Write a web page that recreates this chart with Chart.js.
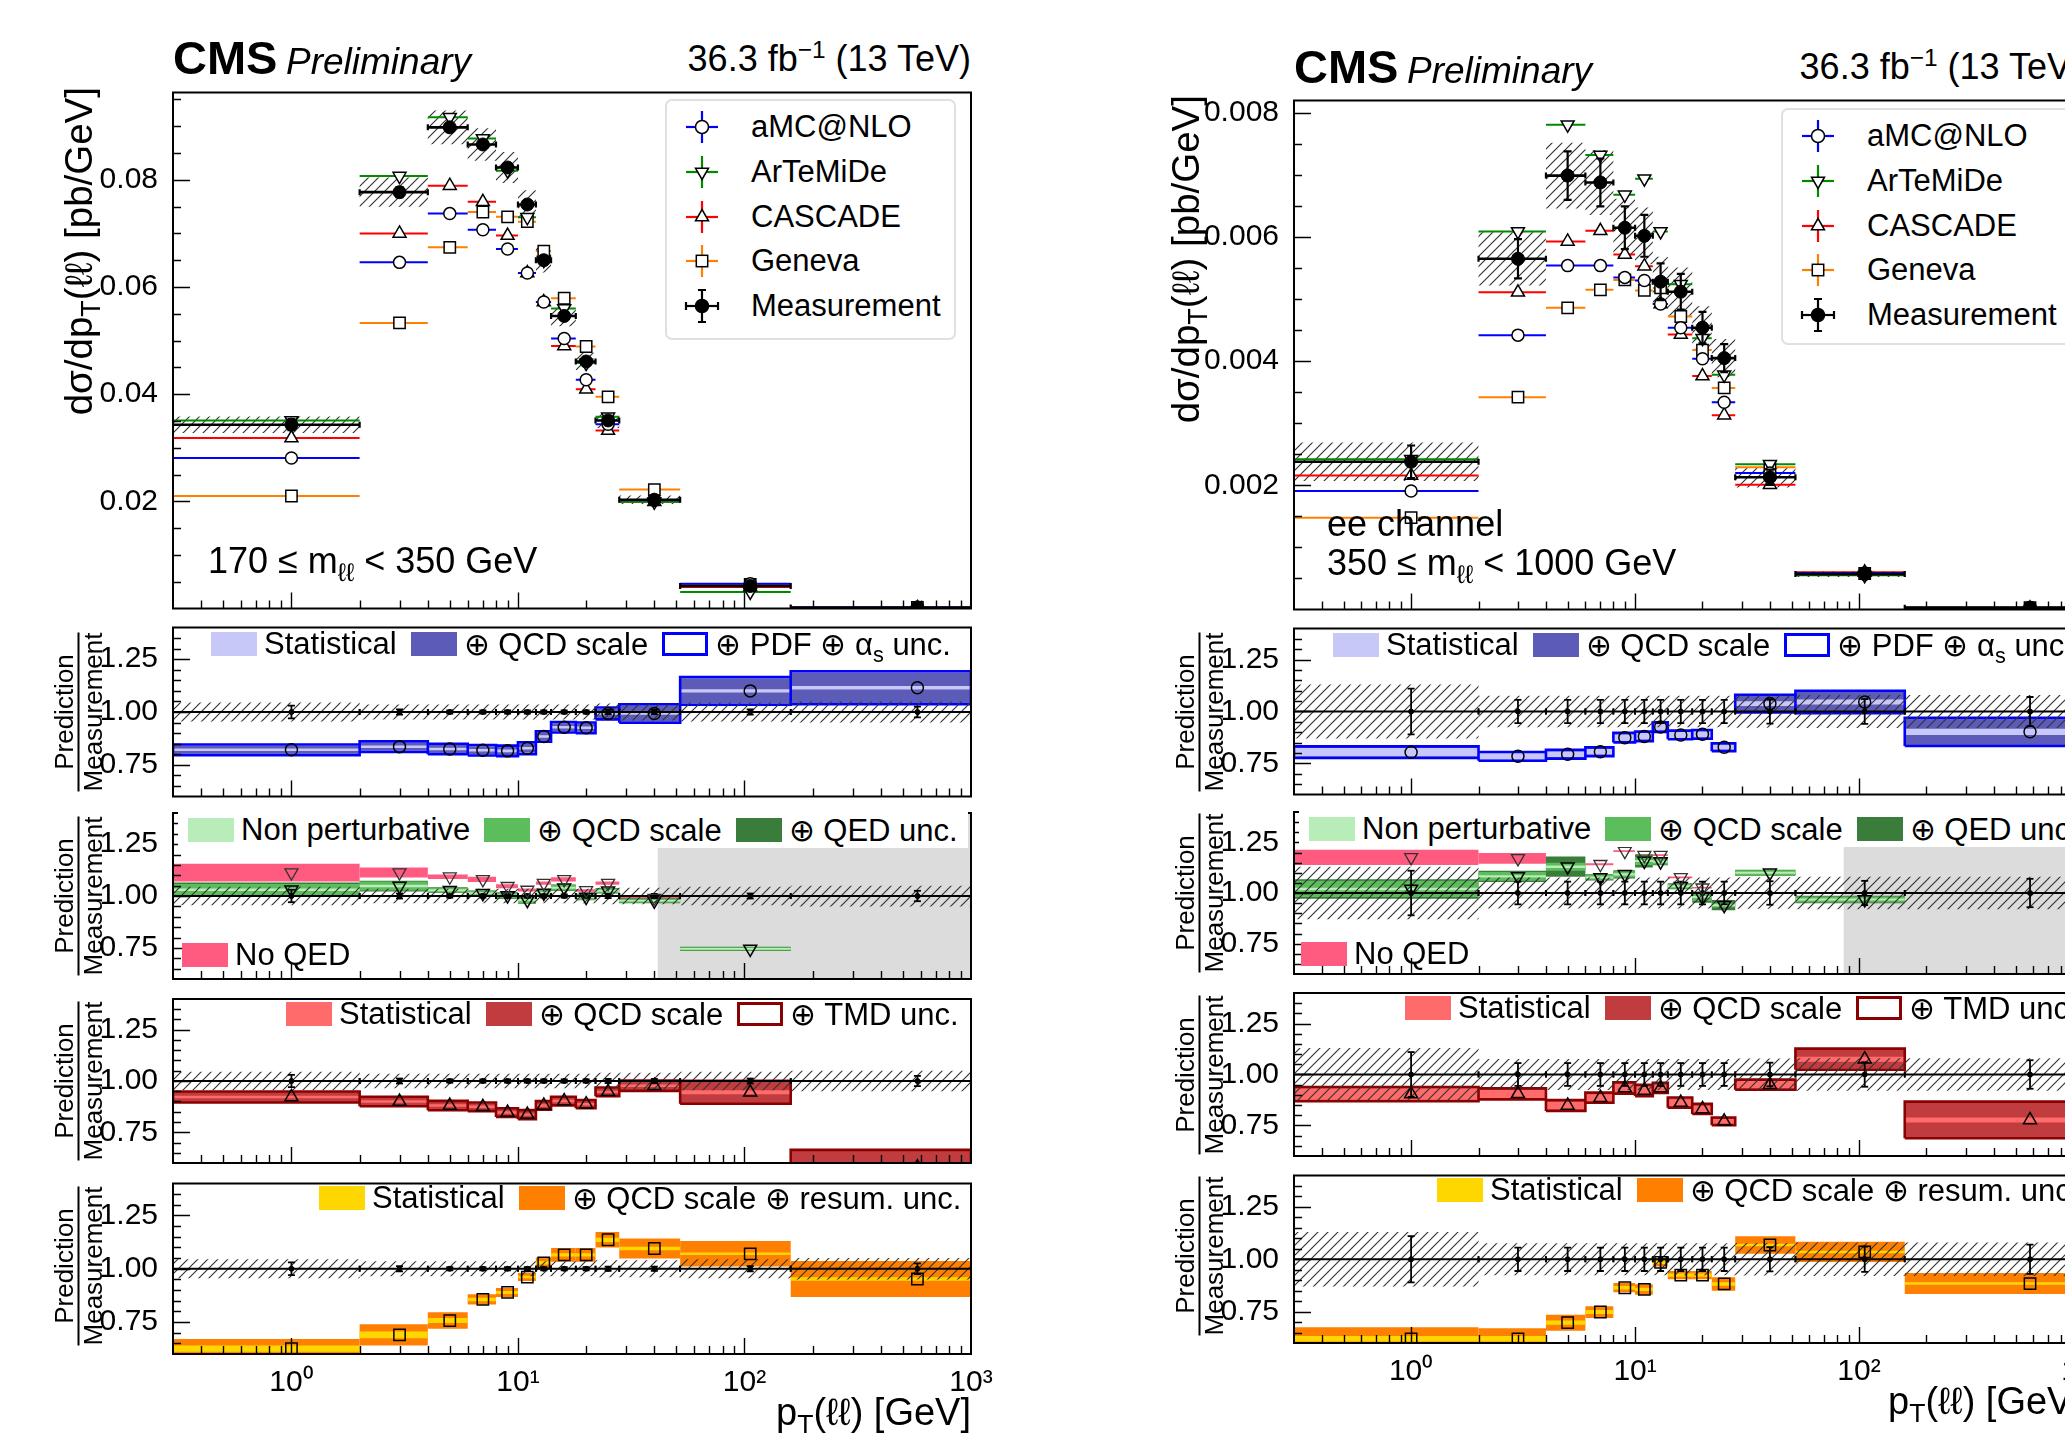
<!DOCTYPE html>
<html>
<head>
<meta charset="utf-8">
<title>pT(ll) predictions vs measurement</title>
<script src="https://cdn.jsdelivr.net/npm/chart.js@4.4.1/dist/chart.umd.min.js"></script>
<style>
  html, body { margin: 0; padding: 0; background: #fff; }
  body { width: 2065px; height: 1434px; position: relative; overflow: hidden;
         font-family: 'Liberation Sans', Arial, Helvetica, sans-serif; color: #000; }
  canvas { position: absolute; z-index: 1; }
  .txt { position: absolute; white-space: nowrap; z-index: 2; }
  .cms { font-weight: bold; }
  .prel { font-style: italic; }
  sub { font-size: 0.7em; vertical-align: -0.3em; line-height: 0; }
  sup { font-size: 0.68em; vertical-align: 0.55em; line-height: 0; }
  .ytitle { position: absolute; z-index: 2; width: 560px; text-align: right; font-size: 38.5px;
            line-height: 38.5px; transform-origin: 0 0; transform: rotate(-90deg); white-space: nowrap; }
  .frac { position: absolute; z-index: 2; transform: translate(-50%, -50%) rotate(-90deg);
          font-size: 26px; line-height: 24px; text-align: center; white-space: nowrap; }
  .frac .num { padding-bottom: 2px; }
  .frac .den { border-top: 2px solid #000; padding-top: 1px; }
  .rleg { position: absolute; z-index: 2; display: flex; align-items: center; height: 36px;
          font-size: 31px; white-space: nowrap; box-sizing: border-box; }
  .swatch { width: 46px; height: 24px; box-sizing: border-box; margin-right: 7px; flex: none; }
  .rtxt { margin-right: 14px; }
  .mleg { position: absolute; z-index: 2; width: 291px; box-sizing: border-box;
          border: 2px solid #e0e0e0; border-radius: 7px; background: #fff; }
  .mrow { position: absolute; left: 13px; height: 44px; display: flex; align-items: center;
          font-size: 31px; white-space: nowrap; }
  .mrow svg { margin-right: 27px; flex: none; }
</style>
</head>
<body>
<script>
// ---- binning and axes ----
const X_MIN = 0.3, X_MAX = 1000;
const binEdges = [0, 2, 4, 6, 8, 10, 12, 14, 18, 22, 28, 52, 160, 1000];
const binCenters = [1, 3, 5, 7, 9, 11, 13, 16, 20, 25, 40, 106, 580];
const xMajorTicks = [1, 10, 100, 1000];
const xTickLabels = ['10⁰', '10¹', '10²', '10³'];
const ratioTicks = [0.75, 1.00, 1.25];
const mainTicksLow = [0.02, 0.04, 0.06, 0.08];
const mainTicksHigh = [0.002, 0.004, 0.006, 0.008];

// ---- 170 <= m_ll < 350 GeV ----
const measLow    = [0.0343, 0.0777, 0.0898, 0.0866, 0.0823, 0.0754, 0.0650, 0.0546, 0.0461, 0.0351, 0.0203, 0.0042, 0.0002];
const measUncLow = [0.045, 0.035, 0.035, 0.035, 0.035, 0.035, 0.035, 0.035, 0.035, 0.04, 0.04, 0.045, 0.05];
const measErrLow = [0.03, 0.012, 0.008, 0.008, 0.008, 0.008, 0.008, 0.008, 0.008, 0.01, 0.01, 0.012, 0.025];
const amcLow = [0.0281, 0.0646, 0.0737, 0.0707, 0.0671, 0.0626, 0.0572, 0.0504, 0.0427, 0.0344, 0.0202, 0.0046, 0.0002];
const artLow = [0.0351, 0.0807, 0.0917, 0.0877, 0.0817, 0.0730, 0.0650, 0.0560, 0.0458, 0.0358, 0.0199, 0.0031, null];
const casLow = [0.0318, 0.0700, 0.0789, 0.0759, 0.0696, 0.0626, 0.0572, 0.0490, 0.0409, 0.0332, 0.0199, 0.0040, 0.0001];
const genLow = [0.0210, 0.0533, 0.0674, 0.0740, 0.0731, 0.0722, 0.0667, 0.0579, 0.0489, 0.0395, 0.0222, 0.0045, 0.0002];

const amcRatioLow = [0.821, 0.836, 0.825, 0.819, 0.816, 0.828, 0.884, 0.928, 0.925, 0.993, 0.993, 1.100, 1.115];
const amcStatLow  = [0.006, 0.006, 0.006, 0.006, 0.006, 0.006, 0.006, 0.006, 0.006, 0.006, 0.006, 0.008, 0.008];
const amcScaleLow = [0.019, 0.019, 0.019, 0.019, 0.019, 0.021, 0.019, 0.019, 0.019, 0.021, 0.039, 0.060, 0.072];
const amcPdfLow   = [0.025, 0.025, 0.025, 0.025, 0.025, 0.028, 0.025, 0.025, 0.025, 0.028, 0.044, 0.066, 0.078];

const artRatioLow = [1.030, 1.048, 1.028, 1.013, 1.002, 0.980, 1.015, 1.040, 0.995, 1.025, 0.977, 0.745, null];
const artNpLow    = [0.006, 0.006, 0.005, 0.005, 0.005, 0.005, 0.005, 0.005, 0.005, 0.005, 0.004, 0.004, null];
const artScaleLow = [0.028, 0.022, 0.012, 0.012, 0.014, 0.015, 0.011, 0.014, 0.014, 0.011, 0.010, 0.008, null];
const artQedLow   = [0.035, 0.026, 0.014, 0.014, 0.016, 0.017, 0.013, 0.016, 0.016, 0.013, 0.012, 0.010, null];
const noQedLow    = [1.113, 1.113, 1.093, 1.080, 1.047, 1.029, 1.062, 1.080, 1.027, 1.062, 0.990, null, null];
const noQedWLow   = [0.043, 0.024, 0.011, 0.013, 0.010, 0.007, 0.008, 0.010, 0.006, 0.008, 0.009, null, null];

const casRatioLow = [0.922, 0.900, 0.880, 0.874, 0.846, 0.836, 0.881, 0.902, 0.887, 0.947, 0.977, 0.945, 0.580];
const casStatLow  = [0.006, 0.006, 0.006, 0.006, 0.006, 0.006, 0.006, 0.006, 0.006, 0.006, 0.006, 0.010, 0.010];
const casScaleLow = [0.024, 0.020, 0.020, 0.018, 0.018, 0.019, 0.018, 0.018, 0.017, 0.018, 0.022, 0.052, 0.080];
const casTmdLow   = [0.027, 0.023, 0.023, 0.021, 0.021, 0.022, 0.021, 0.021, 0.020, 0.021, 0.025, 0.056, 0.084];

const genRatioLow = [0.625, 0.690, 0.757, 0.856, 0.889, 0.961, 1.028, 1.065, 1.065, 1.136, 1.095, 1.070, 0.952];
const genStatLow  = [0.015, 0.016, 0.012, 0.008, 0.007, 0.006, 0.008, 0.008, 0.008, 0.010, 0.008, 0.006, 0.008];
const genScaleLow = [0.045, 0.050, 0.039, 0.024, 0.021, 0.019, 0.025, 0.032, 0.032, 0.036, 0.047, 0.060, 0.084];

// ---- ee channel, 350 <= m_ll < 1000 GeV ----
const measHigh    = [0.00238, 0.00565, 0.00699, 0.00688, 0.00615, 0.00602, 0.00528, 0.00512, 0.00454, 0.00405, 0.00213, 0.00057, 0.00003];
const measUncHigh = [0.13, 0.076, 0.076, 0.076, 0.076, 0.076, 0.076, 0.076, 0.076, 0.076, 0.078, 0.08, 0.08];
const measErrHigh = [0.11, 0.056, 0.056, 0.056, 0.056, 0.056, 0.056, 0.056, 0.056, 0.056, 0.058, 0.06, 0.07];
const amcHigh = [0.00191, 0.00442, 0.00554, 0.00554, 0.00535, 0.00530, 0.00492, 0.00454, 0.00404, 0.00334, 0.00220, 0.00059, 0.00003];
const artHigh = [0.00242, 0.00609, 0.00781, 0.00732, 0.00668, 0.00694, 0.00609, 0.00524, 0.00437, 0.00378, 0.00234, 0.00055, null];
const casHigh = [0.00216, 0.00511, 0.00593, 0.00610, 0.00572, 0.00553, 0.00492, 0.00443, 0.00376, 0.00313, 0.00201, 0.00060, 0.00002];
const genHigh = [0.00148, 0.00342, 0.00486, 0.00515, 0.00531, 0.00514, 0.00518, 0.00472, 0.00418, 0.00357, 0.00229, 0.00058, 0.00003];

const amcRatioHigh = [0.804, 0.784, 0.794, 0.806, 0.874, 0.880, 0.925, 0.887, 0.890, 0.828, 1.038, 1.046, 0.902];
const amcStatHigh  = [0.020, 0.016, 0.015, 0.015, 0.016, 0.016, 0.016, 0.015, 0.015, 0.012, 0.012, 0.012, 0.015];
const amcScaleHigh = [0.025, 0.019, 0.018, 0.018, 0.020, 0.020, 0.020, 0.018, 0.018, 0.016, 0.040, 0.050, 0.064];
const amcPdfHigh   = [0.028, 0.021, 0.021, 0.021, 0.023, 0.023, 0.023, 0.021, 0.021, 0.019, 0.043, 0.054, 0.068];

const artRatioHigh = [1.020, 1.082, 1.130, 1.077, 1.092, 1.158, 1.155, 1.033, 0.980, 0.940, 1.100, 0.968, null];
const artNpHigh    = [0.006, 0.006, 0.006, 0.005, 0.005, 0.005, 0.005, 0.005, 0.005, 0.005, 0.005, 0.005, null];
const artScaleHigh = [0.040, 0.022, 0.020, 0.012, 0.015, 0.020, 0.014, 0.012, 0.020, 0.012, 0.012, 0.015, null];
const artQedHigh   = [0.048, 0.028, 0.050, 0.015, 0.020, 0.032, 0.018, 0.015, 0.028, 0.025, 0.015, 0.018, null];
const noQedHigh    = [1.176, 1.171, null, 1.142, 1.207, 1.187, 1.187, 1.077, 1.026, null, null, null, null];
const noQedWHigh   = [0.038, 0.027, null, 0.005, 0.004, 0.004, 0.004, 0.004, 0.004, null, null, null, null];

const casRatioHigh = [0.904, 0.905, 0.848, 0.886, 0.934, 0.922, 0.934, 0.862, 0.831, 0.770, 0.950, 1.075, 0.777];
const casStatHigh  = [0.028, 0.020, 0.017, 0.017, 0.019, 0.019, 0.017, 0.017, 0.017, 0.011, 0.019, 0.012, 0.012];
const casScaleHigh = [0.031, 0.024, 0.023, 0.021, 0.024, 0.024, 0.021, 0.021, 0.021, 0.016, 0.022, 0.047, 0.086];
const casTmdHigh   = [0.035, 0.027, 0.027, 0.025, 0.028, 0.028, 0.025, 0.025, 0.025, 0.019, 0.025, 0.052, 0.090];

const genRatioHigh = [0.620, 0.620, 0.697, 0.748, 0.864, 0.856, 0.985, 0.924, 0.924, 0.882, 1.068, 1.035, 0.884];
const genStatHigh  = [0.013, 0.013, 0.010, 0.010, 0.008, 0.008, 0.008, 0.008, 0.008, 0.008, 0.006, 0.006, 0.006];
const genScaleHigh = [0.055, 0.050, 0.038, 0.028, 0.022, 0.025, 0.020, 0.020, 0.020, 0.032, 0.042, 0.048, 0.050];

// ---- colours ----
const BLUE = '#0000ff', GREEN = '#008a00', RED = '#ff0000', ORANGE = '#ff8000';
const AMC_STAT = '#c8c8f8', AMC_QCD = '#5c5cb8';
const ART_NP = '#b8ecb8', ART_QCD = '#5cbd5c', ART_QED = '#3a7d3a', NOQED = '#ff5a80';
const CAS_STAT = '#ff6b6b', CAS_QCD = '#c03c3e', CAS_TMD = '#8b0000';
const GEN_STAT = '#ffd700', GEN_QCD = '#ff8000';
const GREY = '#dcdcdc';
const FONT = "'Liberation Sans', Arial, Helvetica, sans-serif";

// ---- layout of the two figures ----
const PANELS = [
  {
    frameLeft: 173, frameW: 798, mainTop: 86, mainBottom: 615,
    ratios: [[623, 801], [807, 985], [993, 1169], [1177, 1354]],
    yMax: 0.0963, yMajor: mainTicksLow, yMinor: 0.005, yDigits: 2,
    titleX: 60, titleEnd: 87, cmsBase: 74, lumiBase: 71, xTitleBase: 1425,
    texts: [['170 ≤ m<sub>ℓℓ</sub> &lt; 350 GeV', 208, 573]],
    leg: { left: 665, top: 99, height: 241 },
    legOffsets: [38, 15, 9, 113, 146],
    tmdLimit: 41.4,
    meas: measLow, measUnc: measUncLow, measErr: measErrLow,
    amc: amcLow, art: artLow, cas: casLow, gen: genLow,
    amcR: [amcRatioLow, amcStatLow, amcScaleLow, amcPdfLow],
    artR: [artRatioLow, artNpLow, artScaleLow, artQedLow, noQedLow, noQedWLow],
    casR: [casRatioLow, casStatLow, casScaleLow, casTmdLow],
    genR: [genRatioLow, genStatLow, genScaleLow]
  },
  {
    frameLeft: 1294, frameW: 789, mainTop: 94, mainBottom: 616,
    ratios: [[624, 799], [806, 980], [987, 1162], [1169, 1343]],
    yMax: 0.0082, yMajor: mainTicksHigh, yMinor: 0.0005, yDigits: 3,
    titleX: 1167, titleEnd: 95, cmsBase: 83, lumiBase: 79, xTitleBase: 1414,
    texts: [['ee channel', 1327, 536], ['350 ≤ m<sub>ℓℓ</sub> &lt; 1000 GeV', 1327, 575]],
    leg: { left: 1781, top: 108, height: 237 },
    legOffsets: [39, 15, 7, 111, 143],
    tmdLimit: 85.4,
    meas: measHigh, measUnc: measUncHigh, measErr: measErrHigh,
    amc: amcHigh, art: artHigh, cas: casHigh, gen: genHigh,
    amcR: [amcRatioHigh, amcStatHigh, amcScaleHigh, amcPdfHigh],
    artR: [artRatioHigh, artNpHigh, artScaleHigh, artQedHigh, noQedHigh, noQedWHigh],
    casR: [casRatioHigh, casStatHigh, casScaleHigh, casTmdHigh],
    genR: [genRatioHigh, genStatHigh, genScaleHigh]
  }
];

const MODELS = [
  { key: 'amc', label: 'aMC@NLO', color: BLUE, style: 'circle', rot: 0, r: 6, svg: 'circle' },
  { key: 'art', label: 'ArTeMiDe', color: GREEN, style: 'triangle', rot: 180, r: 7.5, svg: 'down' },
  { key: 'cas', label: 'CASCADE', color: RED, style: 'triangle', rot: 0, r: 7.5, svg: 'up' },
  { key: 'gen', label: 'Geneva', color: ORANGE, style: 'rect', rot: 0, r: 8, svg: 'square' }
];

const YW = 150, PAD_T = 3, PAD_R = 40, PAD_B = 3;

// ---- helpers turning bin values into chart points ----
const lo = i => Math.max(binEdges[i], X_MIN);
const hi = i => binEdges[i + 1];

function rects(centers, halves) {
  const pts = [];
  centers.forEach((c, i) => {
    if (c == null || halves[i] == null) return;
    const y0 = c - halves[i], y1 = c + halves[i];
    pts.push({ x: lo(i), y: y0 }, { x: lo(i), y: y1 }, { x: hi(i), y: y1 },
             { x: hi(i), y: y0 }, { x: lo(i), y: y0 }, { x: hi(i), y: null });
  });
  return pts;
}
function hsegs(vals) {
  const pts = [];
  vals.forEach((v, i) => {
    if (v == null) return;
    pts.push({ x: lo(i), y: v }, { x: hi(i), y: v }, { x: hi(i), y: null });
  });
  return pts;
}
function vbars(vals, errs) {
  const pts = [];
  vals.forEach((v, i) => {
    if (v == null) return;
    pts.push({ x: binCenters[i], y: v - errs[i] }, { x: binCenters[i], y: v + errs[i] }, { x: binCenters[i], y: null });
  });
  return pts;
}
function caps(vals, errs) {
  const pts = [];
  vals.forEach((v, i) => { if (v != null) pts.push({ x: binCenters[i], y: v - errs[i] }, { x: binCenters[i], y: v + errs[i] }); });
  return pts;
}
function edgePts(vals) {
  const pts = [];
  vals.forEach((v, i) => { if (v != null) pts.push({ x: lo(i), y: v }, { x: hi(i), y: v }); });
  return pts;
}
function centerPts(vals) {
  const pts = [];
  vals.forEach((v, i) => { if (v != null) pts.push({ x: binCenters[i], y: v }); });
  return pts;
}

const poly = (data, color, order) => ({ data, fill: 'shape', backgroundColor: color, borderColor: 'rgba(0,0,0,0)', borderWidth: 0, pointRadius: 0, order });
const line = (data, color, width, order) => ({ data, fill: false, borderColor: color, borderWidth: width, pointRadius: 0, order });
const marks = (data, style, rot, r, fillCol, edgeCol, bw, order) => ({
  data, showLine: false, pointStyle: style, rotation: rot, pointRadius: r,
  pointBackgroundColor: fillCol, pointBorderColor: edgeCol, pointBorderWidth: bw, order
});

const hatch = (() => {
  const c = document.createElement('canvas');
  c.width = 10; c.height = 10;
  const g = c.getContext('2d');
  g.strokeStyle = '#333';
  g.lineWidth = 1.15;
  g.beginPath();
  g.moveTo(-1, 11); g.lineTo(11, -1);
  g.moveTo(-6, 6); g.lineTo(6, -6);
  g.moveTo(4, 16); g.lineTo(16, 4);
  g.stroke();
  return g.createPattern(c, 'repeat');
})();

function xTickList() {
  const out = [];
  for (let e = -1; e <= 2; e++) {
    for (let m = 1; m <= 9; m++) {
      const v = +(m * Math.pow(10, e)).toFixed(6);
      if (v >= X_MIN - 1e-9) out.push({ value: v, major: m === 1 });
    }
  }
  out.push({ value: X_MAX, major: true });
  return out;
}
function yTickList(min, max, step, majors) {
  const out = [];
  const k0 = Math.ceil(min / step - 1e-6), k1 = Math.floor(max / step + 1e-6);
  for (let k = k0; k <= k1; k++) {
    const v = +(k * step).toFixed(6);
    out.push({ value: v, major: majors.some(m => Math.abs(m - v) < step / 10) });
  }
  return out;
}

// ROOT-style frame with ticks drawn inside, taken from the chart's scales
const frameAndTicks = {
  id: 'frameAndTicks',
  afterDatasetsDraw(chart) {
    const { ctx, chartArea: a, scales: { x, y } } = chart;
    ctx.save();
    ctx.strokeStyle = '#000';
    ctx.lineWidth = 1.4;
    ctx.beginPath();
    x.ticks.forEach(t => {
      const px = Math.round(x.getPixelForValue(t.value)) + 0.5;
      if (px < a.left + 2 || px > a.right - 2) return;
      ctx.moveTo(px, a.bottom);
      ctx.lineTo(px, a.bottom - (t.major ? 16 : 8));
    });
    y.ticks.forEach(t => {
      const py = Math.round(y.getPixelForValue(t.value)) + 0.5;
      if (py < a.top + 2 || py > a.bottom - 2) return;
      ctx.moveTo(a.left, py);
      ctx.lineTo(a.left + (t.major ? 17 : 8), py);
    });
    ctx.stroke();
    ctx.lineWidth = 2;
    ctx.strokeRect(a.left, a.top, a.right - a.left, a.bottom - a.top);
    ctx.restore();
  }
};

function buildChart(P, top, bottom, datasets, yc, showX) {
  const cv = document.createElement('canvas');
  const w = YW + P.frameW + PAD_R;
  const h = PAD_T + (bottom - top) + (showX ? 62 : PAD_B);
  cv.width = w; cv.height = h;
  cv.style.left = (P.frameLeft - YW) + 'px';
  cv.style.top = (top - PAD_T) + 'px';
  cv.style.width = w + 'px';
  cv.style.height = h + 'px';
  document.body.appendChild(cv);
  return new Chart(cv.getContext('2d'), {
    type: 'line',
    data: { datasets },
    options: {
      responsive: false,
      animation: false,
      devicePixelRatio: 1,
      events: [],
      layout: { padding: { top: PAD_T, right: PAD_R, bottom: 0, left: 0 } },
      plugins: { legend: { display: false }, tooltip: { enabled: false } },
      scales: {
        x: {
          type: 'logarithmic', min: X_MIN, max: X_MAX,
          grid: { display: false }, border: { display: false },
          ticks: {
            display: showX, autoSkip: false, maxRotation: 0, padding: 3, color: '#000',
            font: { family: FONT, size: 30 },
            callback: v => {
              const k = xMajorTicks.findIndex(m => Math.abs(m - v) < 1e-6);
              return k >= 0 ? xTickLabels[k] : '';
            }
          },
          afterBuildTicks: s => { s.ticks = xTickList(); },
          afterFit: s => { s.height = showX ? 62 : PAD_B; s.paddingLeft = 0; s.paddingRight = 0; }
        },
        y: {
          type: 'linear', min: yc.min, max: yc.max,
          grid: { display: false }, border: { display: false },
          ticks: {
            autoSkip: false, padding: 7, color: '#000',
            font: { family: FONT, size: 30 },
            callback: (v, i, t) => (t[i] && t[i].major ? v.toFixed(yc.digits) : '')
          },
          afterBuildTicks: s => { s.ticks = yTickList(yc.min, yc.max, yc.step, yc.majors); },
          afterFit: s => { s.width = YW; s.paddingTop = 0; s.paddingBottom = 0; }
        }
      }
    },
    plugins: [frameAndTicks]
  });
}

function mainDatasets(P) {
  const ds = [];
  ds.push(poly(rects(P.meas, P.meas.map((v, i) => v * P.measUnc[i])), hatch, 10));
  MODELS.forEach(m => {
    ds.push(line(hsegs(P[m.key]), m.color, 2, 6));
    ds.push(marks(centerPts(P[m.key]), m.style, m.rot, m.r, '#fff', '#000', 1.5, 3));
  });
  const err = P.meas.map((v, i) => v * P.measErr[i]);
  ds.push(line(hsegs(P.meas), '#000', 2.6, 2));
  ds.push(line(vbars(P.meas, err), '#000', 2.2, 2));
  ds.push(marks(caps(P.meas, err), 'line', 0, 4, '#000', '#000', 2.2, 1));
  ds.push(marks(edgePts(P.meas), 'line', 90, 3, '#000', '#000', 2.2, 1));
  ds.push(marks(centerPts(P.meas), 'circle', 0, 6.5, '#000', '#000', 1, 0));
  return ds;
}

function measRatioSets(P) {
  const ones = P.meas.map(() => 1);
  return [
    poly(rects(ones, P.measUnc), hatch, 4),
    line([{ x: X_MIN, y: 1 }, { x: X_MAX, y: 1 }], '#000', 1.8, 3),
    line(vbars(ones, P.measErr), '#000', 1.8, 2),
    marks(caps(ones, P.measErr), 'line', 0, 3.5, '#000', '#000', 1.8, 1),
    marks(edgePts(ones), 'line', 90, 3, '#000', '#000', 1.8, 1),
    marks(centerPts(ones), 'circle', 0, 2.5, '#000', '#000', 1, 1)
  ];
}

const NOFILL = 'rgba(0,0,0,0)';

function ratioDatasets(P, k) {
  const ds = measRatioSets(P);
  if (k === 0) {
    const [c, st, sc, pdf] = P.amcR;
    ds.push(poly(rects(c, sc), AMC_QCD, 7), poly(rects(c, st), AMC_STAT, 6),
            line(rects(c, pdf), BLUE, 2.6, 5),
            marks(centerPts(c), 'circle', 0, 6, NOFILL, '#000', 1.5, 0));
  } else if (k === 1) {
    const [c, np, sc, qed, nq, nqw] = P.artR;
    ds.push(poly([{ x: P.tmdLimit, y: 0.6 }, { x: P.tmdLimit, y: 1.4 }, { x: X_MAX, y: 1.4 },
                  { x: X_MAX, y: 0.6 }, { x: P.tmdLimit, y: 0.6 }], GREY, 12),
            poly(rects(nq, nqw), NOQED, 9),
            marks(centerPts(nq), 'triangle', 180, 7.5, NOFILL, '#333', 1.3, 0),
            poly(rects(c, qed), ART_QED, 8), poly(rects(c, sc), ART_QCD, 7), poly(rects(c, np), ART_NP, 6),
            marks(centerPts(c), 'triangle', 180, 7.5, NOFILL, '#000', 1.5, 0));
  } else if (k === 2) {
    const [c, st, sc, tmd] = P.casR;
    ds.push(poly(rects(c, sc), CAS_QCD, 7), poly(rects(c, st), CAS_STAT, 6),
            line(rects(c, tmd), CAS_TMD, 2.6, 5),
            marks(centerPts(c), 'triangle', 0, 7.5, NOFILL, '#000', 1.5, 0));
  } else {
    const [c, st, sc] = P.genR;
    ds.push(poly(rects(c, sc), GEN_QCD, 7), poly(rects(c, st), GEN_STAT, 6),
            marks(centerPts(c), 'rect', 0, 8, NOFILL, '#000', 1.5, 0));
  }
  return ds;
}

// ---- text helpers (real HTML text) ----
function addText(html, x, base, size, cls, alignRight) {
  const d = document.createElement('div');
  d.className = 'txt ' + (cls || '');
  d.innerHTML = html;
  d.style.fontSize = size + 'px';
  d.style.lineHeight = size + 'px';
  d.style.left = x + 'px';
  d.style.top = (base - 0.8465 * size) + 'px';
  if (alignRight) d.style.transform = 'translateX(-100%)';
  document.body.appendChild(d);
  return d;
}

function symbolSvg(color, shape, filled, withCaps) {
  let s = '<svg width="44" height="44" viewBox="0 0 44 44">';
  s += `<line x1="22" y1="6" x2="22" y2="38" stroke="${color}" stroke-width="2.2"/>`;
  s += `<line x1="6" y1="22" x2="38" y2="22" stroke="${color}" stroke-width="2.2"/>`;
  if (withCaps) {
    s += `<path d="M18 6H26M18 38H26M6 18V26M38 18V26" stroke="${color}" stroke-width="2.2"/>`;
  }
  const f = filled ? '#000' : '#fff';
  const st = `fill="${f}" stroke="#000" stroke-width="1.5"`;
  if (shape === 'circle') s += `<circle cx="22" cy="22" r="6.5" ${st}/>`;
  else if (shape === 'up') s += `<polygon points="22,14.5 28.5,25.75 15.5,25.75" ${st}/>`;
  else if (shape === 'down') s += `<polygon points="22,29.5 28.5,18.25 15.5,18.25" ${st}/>`;
  else if (shape === 'square') s += `<rect x="16.3" y="16.3" width="11.4" height="11.4" ${st}/>`;
  return s + '</svg>';
}

const LEG_ROW_Y = [28, 73, 117.5, 162, 206.5];
function mainLegend(P) {
  const box = document.createElement('div');
  box.className = 'mleg';
  box.style.left = P.leg.left + 'px';
  box.style.top = P.leg.top + 'px';
  box.style.height = P.leg.height + 'px';
  const rows = MODELS.map(m => ({ label: m.label, svg: symbolSvg(m.color, m.svg, false, false) }));
  rows.push({ label: 'Measurement', svg: symbolSvg('#000', 'circle', true, true) });
  rows.forEach((r, i) => {
    const row = document.createElement('div');
    row.className = 'mrow';
    row.style.top = (LEG_ROW_Y[i] - 22 - 2) + 'px';
    row.innerHTML = r.svg + `<span>${r.label}</span>`;
    box.appendChild(row);
  });
  document.body.appendChild(box);
}

function ratioLegend(items, left, cy, bgWidth) {
  const d = document.createElement('div');
  d.className = 'rleg';
  d.style.top = (cy - 18) + 'px';
  if (bgWidth) {
    d.style.left = (left - 10) + 'px';
    d.style.paddingLeft = '10px';
    d.style.width = bgWidth + 'px';
    d.style.background = '#fff';
  } else {
    d.style.left = left + 'px';
  }
  items.forEach(it => {
    const b = document.createElement('span');
    b.className = 'swatch';
    b.style.background = it.fill || '#fff';
    if (it.border) b.style.border = '3px solid ' + it.border;
    const t = document.createElement('span');
    t.className = 'rtxt';
    t.innerHTML = it.label;
    d.append(b, t);
  });
  document.body.appendChild(d);
}

function fracTitle(cx, cy) {
  const d = document.createElement('div');
  d.className = 'frac';
  d.style.left = cx + 'px';
  d.style.top = cy + 'px';
  d.innerHTML = '<div class="num">Prediction</div><div class="den">Measurement</div>';
  document.body.appendChild(d);
}

// ---- build both figures ----
PANELS.forEach(P => {
  const right = P.frameLeft + P.frameW;

  buildChart(P, P.mainTop, P.mainBottom, mainDatasets(P),
    { min: 0, max: P.yMax, step: P.yMinor, majors: P.yMajor, digits: P.yDigits }, false);

  P.ratios.forEach(([t, b], k) => {
    buildChart(P, t, b, ratioDatasets(P, k),
      { min: 0.6, max: 1.4, step: 0.05, majors: ratioTicks, digits: 2 }, k === 3);
    fracTitle(P.frameLeft - 95, (t + b) / 2);
  });

  addText('CMS', P.frameLeft, P.cmsBase, 47, 'cms');
  addText('Preliminary', P.frameLeft + 113, P.cmsBase, 37, 'prel');
  addText('36.3 fb<sup>−1</sup> (13 TeV)', right, P.lumiBase, 36, '', true);
  P.texts.forEach(([html, x, base]) => addText(html, x, base, 36));
  addText('p<sub>T</sub>(ℓℓ) [GeV]', right, P.xTitleBase, 38, '', true);

  const yt = document.createElement('div');
  yt.className = 'ytitle';
  yt.innerHTML = 'dσ/dp<sub>T</sub>(ℓℓ) [pb/GeV]';
  yt.style.left = P.titleX + 'px';
  yt.style.top = (P.titleEnd + 560) + 'px';
  document.body.appendChild(yt);

  mainLegend(P);

  const [o1, o2, o2b, o3, o4] = P.legOffsets;
  const [r1, r2, r3, r4] = P.ratios;
  ratioLegend([
    { fill: AMC_STAT, label: 'Statistical' },
    { fill: AMC_QCD, label: '⊕ QCD scale' },
    { border: BLUE, label: '⊕ PDF ⊕ α<sub>s</sub> unc.' }
  ], P.frameLeft + o1, r1[0] + 21);
  ratioLegend([
    { fill: ART_NP, label: 'Non perturbative' },
    { fill: ART_QCD, label: '⊕ QCD scale' },
    { fill: ART_QED, label: '⊕ QED unc.' }
  ], P.frameLeft + o2, r2[0] + 23, P.frameW - 8);
  ratioLegend([{ fill: NOQED, label: 'No QED' }], P.frameLeft + o2b, r2[0] + 148);
  ratioLegend([
    { fill: CAS_STAT, label: 'Statistical' },
    { fill: CAS_QCD, label: '⊕ QCD scale' },
    { border: CAS_TMD, label: '⊕ TMD unc.' }
  ], P.frameLeft + o3, r3[0] + 21);
  ratioLegend([
    { fill: GEN_STAT, label: 'Statistical' },
    { fill: GEN_QCD, label: '⊕ QCD scale ⊕ resum. unc.' }
  ], P.frameLeft + o4, r4[0] + 21);
});
</script>
</body>
</html>
